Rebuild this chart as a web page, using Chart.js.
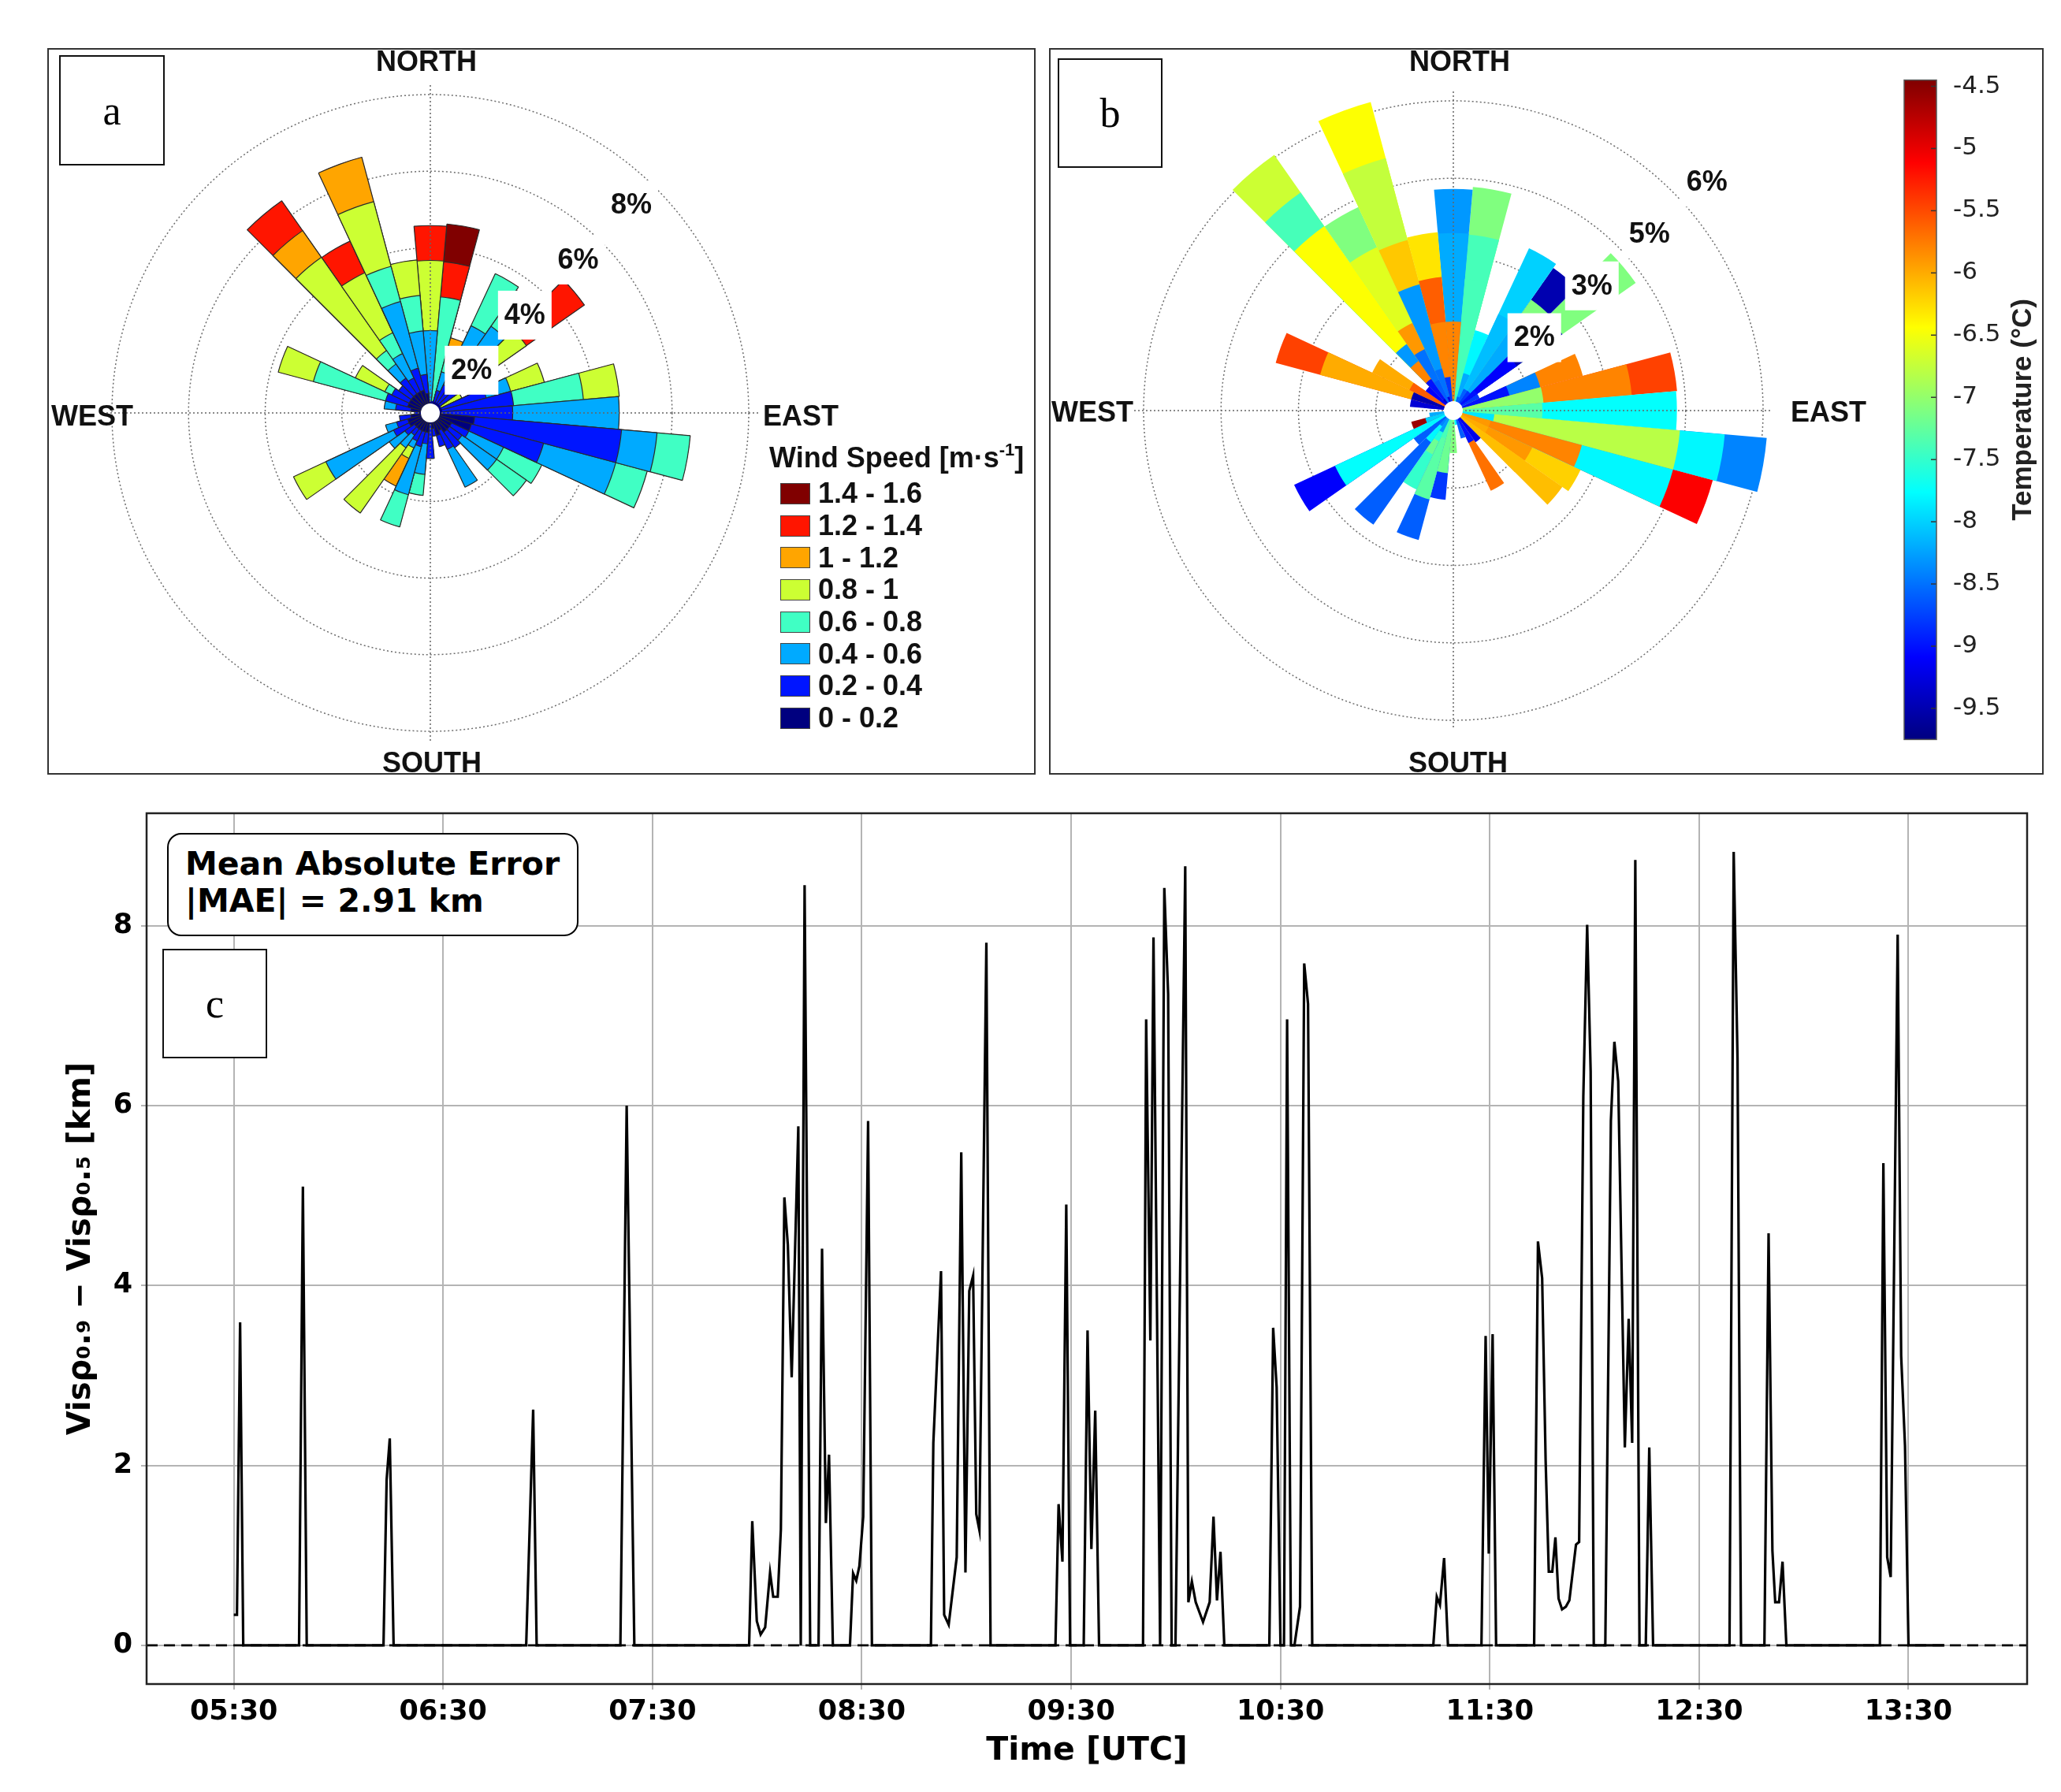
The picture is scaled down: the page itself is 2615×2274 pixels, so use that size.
<!DOCTYPE html>
<html>
<head>
<meta charset="utf-8">
<script src="https://cdn.jsdelivr.net/npm/chart.js@4.4.1/dist/chart.umd.min.js"></script>
<style>
body{margin:0;background:#fff;width:2615px;height:2274px;position:relative;overflow:hidden;font-family:'Liberation Sans',Arial,sans-serif}
canvas{position:absolute}
.frame{position:absolute;border:2px solid #333;box-sizing:border-box}
.tag{position:absolute;border:2.5px solid #111;box-sizing:border-box;background:#fff;font-family:'Liberation Serif','Times New Roman',serif;font-size:52px;display:flex;align-items:center;justify-content:center;z-index:5}
.leg{position:absolute;left:976px;top:556px;font-weight:bold;font-size:36px;color:#111;z-index:5}
.leg .ttl{white-space:nowrap;height:50px;line-height:50px}
.leg .ttl sup{font-size:22px;vertical-align:top;line-height:30px}
.leg .row{height:40.7px;display:flex;align-items:center;padding-left:14px}
.leg .sw{width:38px;height:27px;border:1.5px solid #444;box-sizing:border-box;margin-right:10px}
.mae{position:absolute;left:212px;top:1057px;width:522px;height:131px;border:2.5px solid #000;border-radius:18px;box-sizing:border-box;background:#fff;font-family:'DejaVu Sans',sans-serif;font-weight:bold;font-size:41px;line-height:47px;padding:14px 0 0 21px;z-index:5;white-space:nowrap}
</style>
</head>
<body>
<div class="frame" style="left:60px;top:61px;width:1254px;height:922px"></div>
<div class="frame" style="left:1331px;top:61px;width:1262px;height:922px"></div>
<canvas id="roseA" width="1254" height="922" style="left:60px;top:61px"></canvas>
<canvas id="roseB" width="1262" height="922" style="left:1331px;top:61px"></canvas>
<canvas id="cbar" width="200" height="900" style="left:2390px;top:70px"></canvas>
<canvas id="lineC" width="2615" height="1274" style="left:0;top:1000px"></canvas>
<div class="tag" style="left:75px;top:70px;width:134px;height:140px">a</div>
<div class="tag" style="left:1342px;top:74px;width:133px;height:139px">b</div>
<div class="tag" style="left:206px;top:1204px;width:133px;height:139px">c</div>
<div class="mae">Mean Absolute Error<br>|MAE| = 2.91 km</div>
<div class="leg" id="legA"><div class="ttl">Wind Speed [m·s<sup>-1</sup>]</div></div>

<script>
// direcoes (graus, centro de cada setor de 10°)
const dirs = [0,10,20,30,40,50,60,70,80,90,100,110,120,130,140,150,160,170,180,190,200,210,220,230,240,250,260,270,280,290,300,310,320,330,340,350]

// frequencia (%) por classe de velocidade
const spdLabels = ['0 - 0.2','0.2 - 0.4','0.4 - 0.6','0.6 - 0.8','0.8 - 1','1 - 1.2','1.2 - 1.4','1.4 - 1.6']
const spdColors = ['#00007f','#0015ff','#00aaff','#40ffc4','#ccff33','#ffa500','#ff1500','#800000']
const pct0_02  = [0,0,0,0,0,0,0,0,0,0,0.85,0.8,0.3,0.3,0.3,0.2,0.3,0.1,0,0.2,0.2,0.2,0.2,0.2,0.3,0.3,0.2,0,0.2,0.3,0.3,0.3,0.3,0.3,0.3,0.2]
const pct02_04 = [0,0,0.3,0.5,0.5,0.6,0,1.2,1.87,1.84,3.85,1.95,0.5,0.4,0.5,0.54,0.3,0.2,0.88,0.3,0.4,0.3,0.2,0.3,0.45,0.3,0.3,0.1,0.4,0.6,0.5,0.4,0.5,0.4,0.6,0.5]
const pct04_06 = [1.84,0,0.5,1.7,1.95,0.4,0,0.66,0,2.78,0.93,1.95,1.0,1.1,0,1.09,0,0,0,0.8,1.3,0.2,0.4,0.5,1.95,0.3,0,0,0.3,0,0,0,0.45,0.7,1.8,1.14]
const pct06_08 = [0,2.73,0.7,1.5,0.35,0.6,0,0,1.83,0,0.87,0.85,1.1,0.95,0,0,0,0,0,0.55,0.87,0,0,0,0,0,0,0,0,1.95,0.2,0,0.43,0.6,0.95,0.93]
const pct08_10 = [1.83,0,0,0,0.8,1.15,0.6,0.91,0.94,0,0,0,0,0,0,0,0,0,0,0,0,0.3,2.08,0,0.93,0,0,0,0,0.95,0.85,0,2.97,1.73,1.75,0.93]
const pct10_12 = [0,0,0.22,0,0,0,0,0,0,0,0,0,0,0,0,0,0,0,0,0,0,0.8,0,0,0,0,0,0,0,0,0,0,0.85,0,1.2,0]
const pct12_14 = [0.91,0.92,0,0,0,1.85,0,0,0,0,0,0,0,0,0,0,0,0,0,0,0,0,0,0,0,0,0,0,0,0,0,0,0.95,0.91,0,0]
const pct14_16 = [0,0.99,0,0,0,0,0,0,0,0,0,0,0,0,0,0,0,0,0,0,0,0,0,0,0,0,0,0,0,0,0,0,0,0,0,0]

// temperatura media (°C) de cada celula (painel b)
const n = null
const temp0_02  = [n,n,n,n,n,n,n,n,n,n,-7.9,-5.9,-6.0,-6.1,-9.2,-9.0,-8.6,-7.8,n,-7.2,-7.4,-8.3,-8.4,-8.6,-7.8,-8.0,-8.2,n,-9.3,-9.5,-5.6,-9.1,-9.4,-8.6,-9.2,-9.0]
const temp02_04 = [n,n,-8.6,-8.6,-8.8,-9.0,n,-9.0,-7.0,-7.3,-6.8,-5.8,-6.0,-6.1,-9.2,-9.0,-8.6,-7.8,-7.1,-7.2,-7.4,-8.3,-8.4,-8.6,-7.8,-8.0,-8.2,-9.0,-9.3,-9.5,-5.6,-9.1,-9.0,-8.6,-8.5,-8.8]
const temp04_06 = [-5.8,n,-8.2,-8.1,-8.2,-9.1,n,-8.4,n,-7.75,-7.8,-7.8,-5.9,-6.1,n,-5.7,n,n,n,-7.2,-7.3,-7.6,-7.8,-8.6,-7.75,-4.6,n,n,-9.3,n,n,n,-5.8,-8.5,-8.3,-5.8]
const temp06_08 = [n,-7.4,-7.8,-8.0,-7.1,-9.1,n,n,-5.8,n,-8.4,-5.1,-6.2,-6.1,n,n,n,n,n,-8.8,-8.6,n,n,n,n,n,n,n,n,-6.0,-5.6,n,-8.3,-5.9,-6.15,-5.6]
const temp08_10 = [-8.2,n,n,n,-9.5,-9.5,-8.8,-5.8,-5.45,n,n,n,n,n,n,n,n,n,n,n,n,-7.2,-8.6,n,-9.1,n,n,n,n,-5.45,-6.0,n,-6.45,-6.6,-6.75,-6.3]
const temp10_12 = [n,n,-7.8,n,n,n,n,n,n,n,n,n,n,n,n,n,n,n,n,n,n,-7.5,n,n,n,n,n,n,n,n,n,n,-7.4,n,-6.45,n]
const temp12_14 = [-8.3,-7.4,n,n,n,-7.1,n,n,n,n,n,n,n,n,n,n,n,n,n,n,n,n,n,n,n,n,n,n,n,n,n,n,-6.7,-7.1,n,n]
const temp14_16 = [n,-7.1,n,n,n,n,n,n,n,n,n,n,n,n,n,n,n,n,n,n,n,n,n,n,n,n,n,n,n,n,n,n,n,n,n,n]

const cbTicks = [-9.5,-9,-8.5,-8,-7.5,-7,-6.5,-6,-5.5,-5,-4.5]
const tLow = -9.75, tHigh = -4.45

// serie temporal (painel c): minutos desde 00:00 UTC e diferenca de visibilidade (km)
const timeMin = [330,330.9,331.8,332.7,348.7,349.8,350.9,372.9,373.8,374.7,375.8,413.8,415.8,416.8,440.8,442.6,444.8,
  477.7,478.6,479.9,481.0,482.3,483.7,484.6,485.9,486.8,487.8,488.8,489.9,491.8,492.5,493.6,495.2,
  497.6,498.6,499.7,500.6,501.7,506.6,507.5,508.4,509.3,510.4,511.8,512.9,
  529.8,530.5,532.7,533.6,534.9,537.2,538.5,539.7,540.8,541.9,542.8,543.7,545.7,546.9,
  565.5,566.4,567.5,568.6,569.7,573.6,574.7,575.8,576.9,578.0,
  590.6,591.5,592.7,593.6,595.5,596.7,597.8,598.8,599.9,602.7,603.6,604.6,605.7,607.8,609.7,610.8,611.8,612.8,613.9,
  626.8,627.9,628.9,630.0,631.0,631.9,633.0,634.0,635.6,636.8,637.9,639.1,
  673.8,674.8,675.7,676.9,678.0,687.6,688.8,689.7,690.8,691.8,
  702.7,703.8,705.0,706.0,706.9,707.9,708.8,709.7,710.7,711.8,712.8,714.7,715.6,716.8,717.9,718.9,719.8,
  723.1,724.7,725.7,726.8,728.7,729.8,730.8,731.7,732.9,734.7,735.7,736.8,
  758.7,759.9,761.0,762.0,768.7,769.9,771.0,771.8,772.9,773.9,775.0,
  801.8,802.8,803.9,804.9,806.9,807.9,809.0,810.0,820.3]
const visDiff = [0.34,0.34,3.59,0,0,5.1,0,0,1.84,2.3,0,0,2.62,0,0,6.0,0,
  0,1.38,0.27,0.12,0.2,0.81,0.54,0.54,1.29,4.98,4.45,2.98,5.77,0,8.45,0,
  0,4.41,1.36,2.12,0,0,0.8,0.72,0.88,1.43,5.83,0,
  0,2.25,4.16,0.34,0.23,0.98,5.48,0.81,3.94,4.11,1.46,1.28,7.81,0,
  0,1.57,0.93,4.9,0,0,3.5,1.07,2.61,0,
  0,6.96,3.39,7.87,0,8.42,7.24,0,0,8.66,0.48,0.71,0.48,0.26,0.48,1.43,0.5,1.04,0,
  0,3.53,2.87,0,0,6.96,0,0,0.43,7.58,7.13,0,
  0,0.54,0.45,0.97,0,0,3.44,1.02,3.46,0,
  0,4.49,4.08,2.05,0.82,0.82,1.2,0.52,0.4,0.43,0.5,1.12,1.15,6.1,8.01,6.38,0,
  0,5.83,6.71,6.27,2.2,3.63,2.25,8.73,0,0,2.2,0,
  0,8.82,6.52,0,0,4.58,1.05,0.48,0.48,0.93,0,
  0,5.36,0.98,0.76,7.9,3.22,2.22,0,0]
const timeTicks = [330,390,450,510,570,630,690,750,810]
const visTicks = [0,2,4,6,8]

const pctClasses = [pct0_02,pct02_04,pct04_06,pct06_08,pct08_10,pct10_12,pct12_14,pct14_16]
const tempClasses = [temp0_02,temp02_04,temp04_06,temp06_08,temp08_10,temp10_12,temp12_14,temp14_16]

// soma acumulada das classes -> raio de cada anel do setor
function cumulate(classes) {
    let run = dirs.map(() => 0)
    return classes.map(arr => {
        run = run.map((v, i) => v + arr[i])
        return run.slice()
    })
}
const cum = cumulate(pctClasses)

function jet(t) {
    t = Math.max(0, Math.min(1, t))
    const c = v => Math.round(255 * Math.max(0, Math.min(1, v)))
    return 'rgb(' + c(1.5 - Math.abs(4*t - 3)) + ',' + c(1.5 - Math.abs(4*t - 2)) + ',' + c(1.5 - Math.abs(4*t - 1)) + ')'
}
function tempColor(T) {
    return T == null ? 'rgba(0,0,0,0)' : jet((T - tLow) / (tHigh - tLow))
}

// desenha cruz, furo central, rotulos dos aneis e pontos cardeais
const roseDeco = {
    id: 'roseDeco',
    afterDraw(chart, args, o) {
        const s = chart.scales.r, ctx = chart.ctx
        const xc = s.xCenter, yc = s.yCenter, R = s.drawingArea
        ctx.save()
        ctx.strokeStyle = '#666'
        ctx.lineWidth = 1.5
        ctx.setLineDash([2, 3])
        ctx.beginPath()
        ctx.moveTo(xc, yc - R - o.axisExt); ctx.lineTo(xc, yc + R + o.axisExt)
        ctx.moveTo(xc - R - o.axisExt, yc); ctx.lineTo(xc + R + o.axisExt, yc)
        ctx.stroke()
        ctx.setLineDash([])
        ctx.fillStyle = '#fff'
        ctx.beginPath(); ctx.arc(xc, yc, o.hole, 0, 2*Math.PI); ctx.fill()

        ctx.font = 'bold 36px "Liberation Sans", Arial, sans-serif'
        ctx.textAlign = 'center'
        ctx.textBaseline = 'middle'
        const a = o.labelAngle * Math.PI / 180
        o.rings.forEach(v => {
            const r = s.getDistanceFromCenterForValue(v) + o.labelOff
            const x = xc + r * Math.sin(a), y = yc - r * Math.cos(a)
            const txt = Math.round(v) + '%'
            const w = ctx.measureText(txt).width + 16
            ctx.fillStyle = '#fff'
            ctx.fillRect(x - w/2, y - 31, w, 62)
            ctx.fillStyle = '#111'
            ctx.fillText(txt, x, y + 1)
        })
        o.compass.forEach(c => {
            ctx.fillStyle = '#111'
            ctx.fillText(c[0], xc + c[1], yc + c[2])
        })
        ctx.restore()
    }
}

function roseChart(id, datasets, cfg) {
    return new Chart(document.getElementById(id), {
        type: 'polarArea',
        data: { labels: dirs.map(String), datasets: datasets },
        options: {
            responsive: false,
            animation: false,
            devicePixelRatio: 1,
            layout: { padding: cfg.pad },
            plugins: {
                legend: { display: false },
                tooltip: { enabled: false },
                roseDeco: cfg.deco
            },
            scales: {
                r: {
                    min: cfg.min,
                    max: cfg.max,
                    startAngle: -5,
                    z: 1,
                    afterBuildTicks: sc => { sc.ticks = [cfg.min].concat(cfg.deco.rings).map(v => ({ value: v })) },
                    ticks: { display: false },
                    grid: { circular: true, color: '#6e6e6e', lineWidth: 1.5 },
                    border: { dash: [2, 3] },
                    angleLines: { display: false },
                    pointLabels: { display: false }
                }
            }
        },
        plugins: [roseDeco]
    })
}

// painel a - rosa dos ventos por velocidade (borda so nas celulas com dado)
roseChart('roseA', cum.map((d, k) => ({
    data: d,
    backgroundColor: spdColors[k],
    borderColor: '#2a2a2a',
    borderWidth: c => pctClasses[k][c.dataIndex] > 0 ? 1.2 : 0,
    clip: false
})), {
    pad: { left: 82, top: 59, right: 364, bottom: 55 },
    min: -0.31, max: 8,
    deco: {
        rings: [2, 4, 6, 8], labelAngle: 44, labelOff: -37, hole: 12, axisExt: 12,
        compass: [['NORTH', -5, -444], ['WEST', -429, 6], ['EAST', 470, 6], ['SOUTH', 2, 446]]
    }
})

// painel b - mesma rosa, colorida pela temperatura
roseChart('roseB', cum.map((d, k) => ({
    data: d,
    backgroundColor: tempClasses[k].map(tempColor),
    borderWidth: 0,
    clip: false
})), {
    pad: { left: 120, top: 67, right: 356, bottom: 69 },
    min: 0, max: 6.4,
    deco: {
        rings: [1.6, 3.2, 4.8, 6.4], labelAngle: 48, labelOff: 40, hole: 12, axisExt: 12,
        compass: [['NORTH', 8, -441], ['WEST', -458, 4], ['EAST', 476, 4], ['SOUTH', 6, 449]]
    }
})

// legenda do painel a
const legA = document.getElementById('legA')
for (let k = spdLabels.length - 1; k >= 0; k--) {
    const row = document.createElement('div')
    row.className = 'row'
    row.innerHTML = '<div class="sw" style="background:' + spdColors[k] + '"></div>' + spdLabels[k]
    legA.appendChild(row)
}

// barra de cores da temperatura
const cbarDeco = {
    id: 'cbarDeco',
    beforeDatasetsDraw(chart) {
        const {ctx, chartArea: ca} = chart
        const g = ctx.createLinearGradient(0, ca.bottom, 0, ca.top)
        for (let i = 0; i <= 40; i++) g.addColorStop(i/40, jet(i/40))
        ctx.save()
        ctx.fillStyle = g
        ctx.fillRect(ca.left, ca.top, ca.right - ca.left, ca.bottom - ca.top)
        const y = chart.scales.y
        ctx.strokeStyle = '#333'
        ctx.lineWidth = 1.5
        y.ticks.forEach(t => {
            const py = y.getPixelForValue(t.value)
            ctx.beginPath(); ctx.moveTo(ca.right - 7, py); ctx.lineTo(ca.right, py); ctx.stroke()
        })
        ctx.strokeStyle = '#555'
        ctx.strokeRect(ca.left, ca.top, ca.right - ca.left, ca.bottom - ca.top)
        ctx.translate(177, (ca.top + ca.bottom) / 2)
        ctx.rotate(-Math.PI / 2)
        ctx.font = 'bold 35px "Liberation Sans", Arial, sans-serif'
        ctx.fillStyle = '#222'
        ctx.textAlign = 'center'
        ctx.textBaseline = 'middle'
        ctx.fillText('Temperature (°C)', 0, 0)
        ctx.restore()
    }
}
new Chart(document.getElementById('cbar'), {
    type: 'scatter',
    data: { datasets: [{ data: [] }] },
    options: {
        responsive: false, animation: false, devicePixelRatio: 1,
        layout: { padding: { left: 26, top: 24, right: 0, bottom: 23 } },
        plugins: { legend: { display: false }, tooltip: { enabled: false } },
        scales: {
            x: { display: false, min: 0, max: 1 },
            y: {
                position: 'right', min: tLow, max: tHigh,
                afterBuildTicks: sc => { sc.ticks = cbTicks.map(v => ({ value: v })) },
                afterFit: sc => { sc.width = 133 },
                grid: { display: false },
                border: { display: false },
                ticks: { color: '#222', padding: 13, callback: v => String(v),
                         font: { family: '"DejaVu Sans", sans-serif', size: 31 } }
            }
        }
    },
    plugins: [cbarDeco]
})

// painel c - serie temporal
const frame = {
    id: 'frame',
    afterDraw(chart) {
        const {ctx, chartArea: ca} = chart
        ctx.save()
        ctx.strokeStyle = '#222'
        ctx.lineWidth = 2.5
        ctx.strokeRect(ca.left, ca.top, ca.right - ca.left, ca.bottom - ca.top)
        ctx.restore()
    }
}
const fmtTime = v => String(Math.floor(v / 60)).padStart(2, '0') + ':' + String(Math.round(v % 60)).padStart(2, '0')
const tickFont = { family: '"DejaVu Sans", sans-serif', size: 35, weight: 'bold' }
new Chart(document.getElementById('lineC'), {
    type: 'line',
    data: {
        datasets: [
            {
                data: timeMin.map((t, i) => ({ x: t, y: visDiff[i] })),
                borderColor: '#000', borderWidth: 3.2, pointRadius: 0, tension: 0
            },
            {
                data: [{ x: 305, y: 0 }, { x: 844, y: 0 }],
                borderColor: '#000', borderWidth: 2.6, borderDash: [14, 8], pointRadius: 0
            }
        ]
    },
    options: {
        responsive: false, animation: false, devicePixelRatio: 1,
        layout: { padding: { left: 0, top: 22, right: 43, bottom: 0 } },
        plugins: { legend: { display: false }, tooltip: { enabled: false } },
        scales: {
            x: {
                type: 'linear', min: 305, max: 844,
                afterBuildTicks: sc => { sc.ticks = timeTicks.map(v => ({ value: v })) },
                afterFit: sc => { sc.height = 137 },
                grid: { color: '#b4b4b4', lineWidth: 2, tickLength: 7 },
                border: { display: false },
                ticks: { color: '#000', padding: 8, maxRotation: 0, font: tickFont, callback: fmtTime },
                title: { display: true, text: 'Time [UTC]', color: '#000', padding: { top: 0, bottom: 27 },
                         font: { family: '"DejaVu Sans", sans-serif', size: 41, weight: 'bold' } }
            },
            y: {
                min: -0.43, max: 9.25,
                afterBuildTicks: sc => { sc.ticks = visTicks.map(v => ({ value: v })) },
                afterFit: sc => { sc.width = 186 },
                grid: { color: '#b4b4b4', lineWidth: 2, tickLength: 7 },
                border: { display: false },
                ticks: { color: '#000', padding: 11, font: tickFont },
                title: { display: true, text: 'Visρ₀.₉ − Visρ₀.₅ [km]', color: '#000', padding: { top: 80, bottom: 0 },
                         font: { family: '"DejaVu Sans", sans-serif', size: 40, weight: 'bold' } }
            }
        }
    },
    plugins: [frame]
})
</script>
</body>
</html>
